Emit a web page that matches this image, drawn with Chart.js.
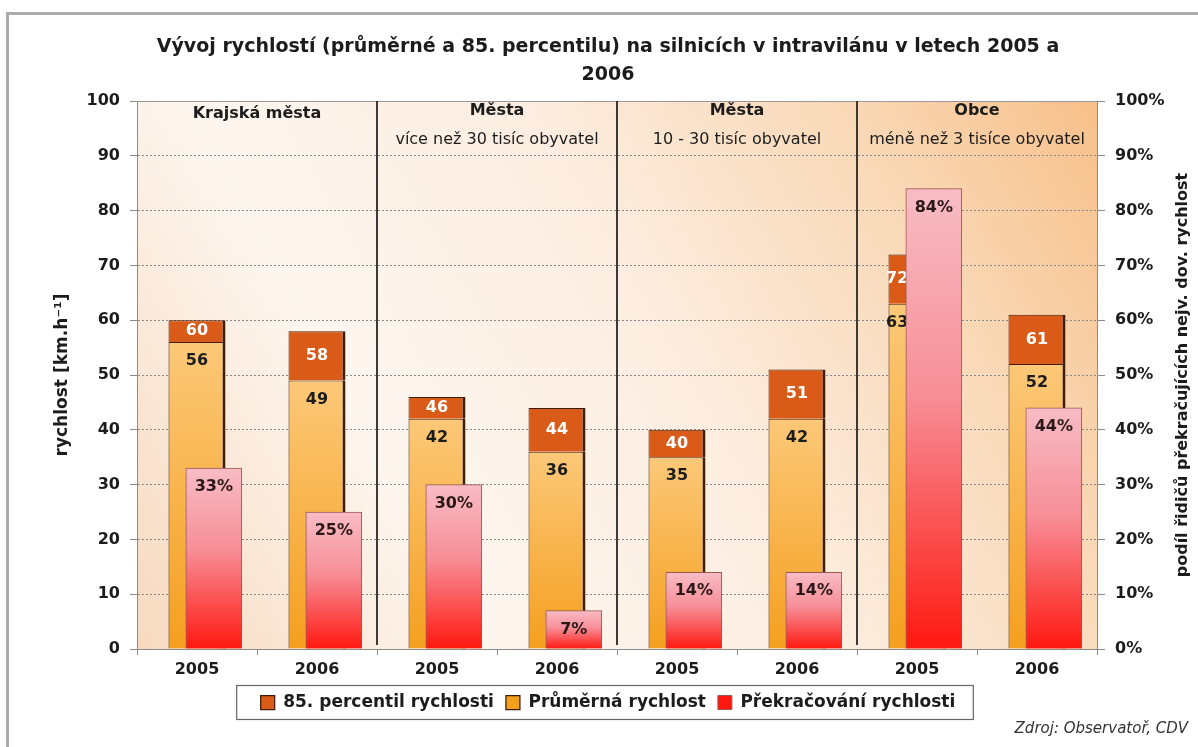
<!DOCTYPE html>
<html lang="cs">
<head>
<meta charset="utf-8">
<title>Vývoj rychlostí v intravilánu 2005 a 2006</title>
<script src="https://cdn.jsdelivr.net/npm/chart.js@4.4.1/dist/chart.umd.min.js"></script>
<style>
  html, body { margin: 0; padding: 0; background: #fff; overflow: hidden; }
</style>
</head>
<body>
<canvas id="rychlostChart" width="1198" height="747"></canvas>
<script>
/* globals Chart:false */

(() => {
  'use strict'

  // Data
  const years = ['2005', '2006', '2005', '2006', '2005', '2006', '2005', '2006']
  const groupTitles = ['Krajská města', 'Města', 'Města', 'Obce']
  const groupSubtitles = ['', 'více než 30 tisíc obyvatel', '10 - 30 tisíc obyvatel', 'méně než 3 tisíce obyvatel']
  const avgSpeed = [56, 49, 42, 36, 35, 42, 63, 52]
  const p85Speed = [60, 58, 46, 44, 40, 51, 72, 61]
  const speedingShare = [33, 25, 30, 7, 14, 14, 84, 44]

  // the share bars sit a little right of the category centre (fraction of a category)
  const shareShift = 0.14

  const FONT = '"DejaVu Sans", "Liberation Sans", Arial, sans-serif'
  const INK = '#1c1c1c'
  const AXIS = '#8a8a8a'
  const SHARE_INDEX = 2

  // per-bar vertical gradient, from the bar's value down to zero on its own scale
  const barGradient = (scaleId, stops, fallback) => (c) => {
    const chart = c.chart
    const v = c.parsed && c.parsed.y
    if (c.type !== 'data' || !chart.chartArea || !Number.isFinite(v)) return fallback
    const s = chart.scales[scaleId]
    const top = s.getPixelForValue(v)
    const bottom = s.getPixelForValue(0)
    if (!Number.isFinite(top) || !Number.isFinite(bottom)) return fallback
    const g = chart.ctx.createLinearGradient(0, top, 0, bottom)
    stops.forEach(([o, col]) => g.addColorStop(o, col))
    return g
  }

  const orangeFill = barGradient('y', [[0, '#fcc878'], [1, '#f59f1e']], '#f5a623')
  const pinkFill = barGradient('y2', [[0, '#f8bcc5'], [0.45, '#f78e97'], [1, '#ff1810']], '#ee3344')

  // plot background and outer frame
  const backdrop = {
    id: 'backdrop',
    beforeDraw(chart) {
      const { ctx, chartArea: a, width, height } = chart
      ctx.save()
      ctx.fillStyle = '#fff'
      ctx.fillRect(0, 0, width, height)
      ctx.fillStyle = '#ababab'
      ctx.fillRect(6, 12, 3, height)
      ctx.fillRect(6, 12, width, 3)
      const g = ctx.createLinearGradient(a.left, a.bottom, a.right, a.top)
      g.addColorStop(0, '#f7d9bf')
      g.addColorStop(0.28, '#fdf6ef')
      g.addColorStop(0.55, '#fcede0')
      g.addColorStop(0.8, '#f9d8b6')
      g.addColorStop(1, '#f7c08a')
      ctx.fillStyle = g
      ctx.fillRect(a.left, a.top, a.right - a.left, a.bottom - a.top)
      ctx.restore()
    }
  }

  // group dividers and group captions
  const sections = {
    id: 'sections',
    beforeDatasetsDraw(chart) {
      const { ctx, chartArea: a, scales: { x } } = chart
      ctx.save()
      ctx.strokeStyle = '#999'
      ctx.lineWidth = 1
      ctx.beginPath()
      ctx.moveTo(a.left, a.top + 0.5)
      ctx.lineTo(a.right, a.top + 0.5)
      ctx.stroke()
      ctx.strokeStyle = '#262626'
      ctx.lineWidth = 1.8
      for (let g = 1; g < groupTitles.length; g++) {
        const px = (x.getPixelForValue(g * 2 - 1) + x.getPixelForValue(g * 2)) / 2
        ctx.beginPath()
        ctx.moveTo(px, a.top)
        ctx.lineTo(px, a.bottom - 4)
        ctx.stroke()
      }
      ctx.textAlign = 'center'
      ctx.textBaseline = 'middle'
      ctx.fillStyle = INK
      groupTitles.forEach((t, g) => {
        const cx = (x.getPixelForValue(g * 2) + x.getPixelForValue(g * 2 + 1)) / 2
        ctx.font = `bold 16px ${FONT}`
        ctx.fillText(t, cx, a.top + (groupSubtitles[g] ? 10 : 13))
        if (groupSubtitles[g]) {
          ctx.font = `16px ${FONT}`
          ctx.fillText(groupSubtitles[g], cx, a.top + 39)
        }
      })
      ctx.restore()
    }
  }

  // value labels, drawn with each dataset so later bars can cover them
  const valueLabels = {
    id: 'valueLabels',
    afterDatasetDraw(chart, args) {
      const ds = chart.data.datasets[args.index]
      if (!ds.labelText) return
      const { ctx } = chart
      const share = args.index === SHARE_INDEX ? null : chart.getDatasetMeta(SHARE_INDEX).data
      ctx.save()
      ctx.font = `bold 16px ${FONT}`
      ctx.textAlign = 'center'
      ctx.textBaseline = 'middle'
      ctx.fillStyle = ds.labelColor
      args.meta.data.forEach((bar, i) => {
        const y = ds.labelCentered ? (bar.y + bar.base) / 2 : bar.y + 19
        let x = bar.x
        // when the share bar in front reaches over the label, keep it in the part left uncovered
        const front = share && share[i]
        if (front && front.y < y) {
          x = ((bar.x - bar.width / 2) + (front.x - front.width / 2)) / 2
        }
        ctx.fillText(ds.labelText[i], x, y)
      })
      ctx.restore()
    }
  }

  // legend frame, right axis title, source note
  const extras = {
    id: 'extras',
    afterDraw(chart) {
      const { ctx, chartArea: a } = chart
      ctx.save()
      const boxes = chart.legend.legendHitBoxes
      if (boxes && boxes.length) {
        const left = Math.min(...boxes.map(b => b.left)) - 24
        const right = Math.max(...boxes.map(b => b.left + b.width)) + 18
        const mid = boxes[0].top + boxes[0].height / 2
        ctx.strokeStyle = '#666'
        ctx.lineWidth = 1.2
        ctx.strokeRect(left, mid - 17, right - left, 34)
      }
      ctx.fillStyle = INK
      ctx.font = `bold 16px ${FONT}`
      ctx.textAlign = 'center'
      ctx.textBaseline = 'middle'
      ctx.translate(1183, (a.top + a.bottom) / 2)
      ctx.rotate(-Math.PI / 2)
      ctx.fillText('podíl řidičů překračujících nejv. dov. rychlost', 0, 0)
      ctx.restore()
      ctx.save()
      ctx.fillStyle = '#333'
      ctx.font = `italic 15px ${FONT}`
      ctx.textAlign = 'right'
      ctx.textBaseline = 'middle'
      ctx.fillText('Zdroj: Observatoř, CDV', 1188, 729)
      ctx.restore()
    }
  }

  const tickFont = { family: FONT, size: 16, weight: 'bold' }

  const ctx = document.getElementById('rychlostChart')
  // eslint-disable-next-line no-unused-vars
  const myChart = new Chart(ctx, {
    type: 'bar',
    data: {
      labels: years,
      datasets: [{
        label: '85. percentil rychlosti',
        data: avgSpeed.map((v, i) => [v, p85Speed[i]]),
        order: 1,
        xAxisID: 'x',
        yAxisID: 'y',
        backgroundColor: '#da5a17',
        borderColor: '#3f1c06',
        borderWidth: { top: 1, left: 1, right: 3, bottom: 0 },
        categoryPercentage: 0.5,
        barPercentage: 0.95,
        labelText: p85Speed,
        labelColor: '#fff',
        labelCentered: true
      }, {
        label: 'Průměrná rychlost',
        data: avgSpeed,
        order: 2,
        xAxisID: 'x',
        yAxisID: 'y',
        backgroundColor: orangeFill,
        borderColor: '#3f1c06',
        borderWidth: { top: 1, left: 1, right: 3, bottom: 0 },
        categoryPercentage: 0.5,
        barPercentage: 0.95,
        labelText: avgSpeed,
        labelColor: INK
      }, {
        label: 'Překračování rychlosti',
        data: speedingShare.map((v, i) => ({ x: i, y: v })),
        order: 0,
        xAxisID: 'x2',
        yAxisID: 'y2',
        backgroundColor: pinkFill,
        borderColor: '#9b5a50',
        borderWidth: 1,
        barThickness: 56,
        labelText: speedingShare.map(v => v + '%'),
        labelColor: '#2a1818'
      }]
    },
    options: {
      responsive: false,
      animation: false,
      datasets: { bar: { grouped: false } },
      layout: { padding: { left: 18, right: 0, top: 0, bottom: 26 } },
      scales: {
        x: {
          offset: true,
          grid: { drawOnChartArea: false, offset: true, tickLength: 6, color: AXIS },
          border: { color: AXIS },
          ticks: { color: INK, font: tickFont, padding: 5 },
          afterFit: (s) => { s.height = 33 }
        },
        x2: {
          type: 'linear',
          display: false,
          offset: false,
          grid: { offset: false },
          min: -0.5 - shareShift,
          max: years.length - 0.5 - shareShift
        },
        y: {
          min: 0,
          max: 100,
          stacked: false,
          ticks: { stepSize: 10, color: INK, font: tickFont, padding: 10 },
          grid: { color: AXIS, tickLength: 7, tickColor: AXIS, tickBorderDash: [] },
          border: { color: AXIS, dash: [2, 2] },
          title: {
            display: true,
            text: 'rychlost [km.h⁻¹]',
            color: INK,
            font: { family: FONT, size: 17, weight: 'bold' },
            padding: { top: 34 }
          },
          afterFit: (s) => { s.width = 119 }
        },
        y2: {
          position: 'right',
          min: 0,
          max: 100,
          stacked: false,
          ticks: { stepSize: 10, color: INK, font: tickFont, padding: 10, callback: (v) => v + '%' },
          grid: { drawOnChartArea: false, tickLength: 8, color: AXIS },
          border: { color: AXIS },
          afterFit: (s) => { s.width = 101 }
        }
      },
      plugins: {
        title: {
          display: true,
          text: ['Vývoj rychlostí (průměrné a 85. percentilu) na silnicích v intravilánu v letech 2005 a', '2006'],
          color: INK,
          font: { family: FONT, size: 19, weight: 'bold', lineHeight: 28 / 19 },
          padding: { top: 33, bottom: 12 }
        },
        legend: {
          position: 'bottom',
          labels: {
            boxWidth: 14,
            boxHeight: 14,
            padding: 12,
            color: INK,
            font: { family: FONT, size: 17, weight: 'bold' },
            sort: (a, b) => a.datasetIndex - b.datasetIndex
          }
        },
        tooltip: { enabled: false }
      }
    },
    plugins: [backdrop, sections, valueLabels, extras]
  })
})()
</script>
</body>
</html>
